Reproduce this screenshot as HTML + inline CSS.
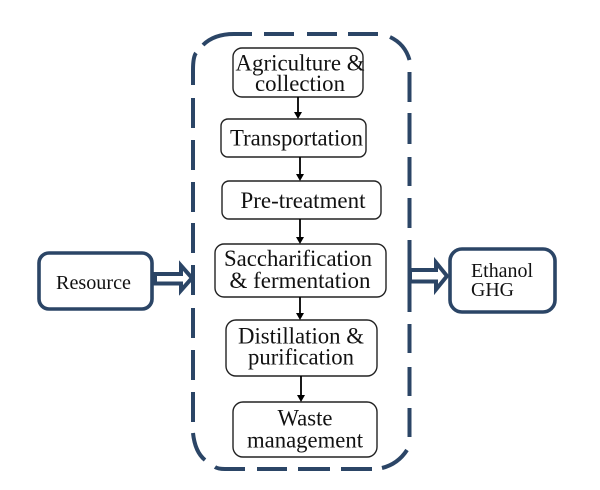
<!DOCTYPE html>
<html><head><meta charset="utf-8"><style>
html,body{margin:0;padding:0;background:#fff;width:600px;height:490px;overflow:hidden}
svg{display:block}
text{font-family:"Liberation Serif",serif;fill:#111}
.t{font-size:23.500px}
.s{font-size:20px}
.b{fill:#fff;stroke:#222;stroke-width:1.4}
.d{fill:none;stroke:#2b4566;stroke-width:4}
.o{fill:#fff;stroke:#2b4566;stroke-width:3.6}
.a{stroke:#000;stroke-width:1.8;fill:none}
</style></head><body>
<svg width="600" height="490" viewBox="0 0 600 490" xmlns="http://www.w3.org/2000/svg">
<path class="d" d="M193 85V70Q193 57 196 53M203 45Q214 34 234 34H252M264 34H294M307 34H337M348 34H378M390 37Q405 44 409.500 60M409.500 72V102M409.500 113V144M409.500 157V186M409.500 198V228M409.500 240V312M409.500 324V353M409.500 367V396M409.500 408V437M407 450Q398 464 382 468M372 469H341M330 469H298M287 469H257M245 469H225Q218 469 215 467M205 460Q195 452 193 433M193 422V392M193 380V350M193 338V308M193 295V265M193 253V223M193 212V182M193 170V140M193 128V98"/>
<rect class="b" x="233" y="48" width="130" height="49" rx="9"/>
<rect class="b" x="221" y="119" width="145" height="38" rx="7"/>
<rect class="b" x="222" y="181" width="159" height="38" rx="7"/>
<rect class="b" x="215" y="244" width="171" height="53" rx="9"/>
<rect class="b" x="226" y="320" width="151" height="56" rx="10"/>
<rect class="b" x="233" y="402" width="144" height="55" rx="10"/>
<path class="a" d="M298 97V113M300 157V175M300 219V238M300 297V314M301 376V396"/>
<path d="M294 112H302L298 119ZM296 174H304L300 181ZM296 237H304L300 244ZM296 313H304L300 320ZM297 395H305L301 402Z" fill="#000"/>
<rect class="o" x="39" y="253" width="113" height="56" rx="10"/>
<rect class="o" x="450" y="249" width="105" height="63" rx="12"/>
<path fill="#fff" stroke="#2b4566" stroke-width="4" d="M155 274H181V265.500L192 278L181 290.500V283.500H155Z"/>
<path fill="#fff" stroke="#2b4566" stroke-width="4" d="M410 270H436V262.500L447 276L436 289.500V281.500H410Z"/>
<text class="t" x="300" y="70.500" text-anchor="middle" textLength="129" lengthAdjust="spacingAndGlyphs">Agriculture &amp;</text>
<text class="t" x="300" y="91" text-anchor="middle" textLength="90" lengthAdjust="spacingAndGlyphs">collection</text>
<text class="t" x="296.500" y="145.500" text-anchor="middle" textLength="133" lengthAdjust="spacingAndGlyphs">Transportation</text>
<text class="t" x="303" y="208" text-anchor="middle" textLength="125" lengthAdjust="spacingAndGlyphs">Pre-treatment</text>
<text class="t" x="298" y="266" text-anchor="middle" textLength="148" lengthAdjust="spacingAndGlyphs">Saccharification</text>
<text class="t" x="300" y="288" text-anchor="middle" textLength="141" lengthAdjust="spacingAndGlyphs">&amp; fermentation</text>
<text class="t" x="301" y="343.500" text-anchor="middle" textLength="126" lengthAdjust="spacingAndGlyphs">Distillation &amp;</text>
<text class="t" x="301" y="364.500" text-anchor="middle" textLength="106" lengthAdjust="spacingAndGlyphs">purification</text>
<text class="t" x="305" y="425.500" text-anchor="middle" textLength="55" lengthAdjust="spacingAndGlyphs">Waste</text>
<text class="t" x="305" y="447.500" text-anchor="middle" textLength="116" lengthAdjust="spacingAndGlyphs">management</text>
<text class="s" x="56" y="289" textLength="75" lengthAdjust="spacingAndGlyphs">Resource</text>
<text class="s" x="471" y="277" textLength="62" lengthAdjust="spacingAndGlyphs">Ethanol</text>
<text class="s" x="471" y="296" textLength="43" lengthAdjust="spacingAndGlyphs">GHG</text>
</svg>
</body></html>
